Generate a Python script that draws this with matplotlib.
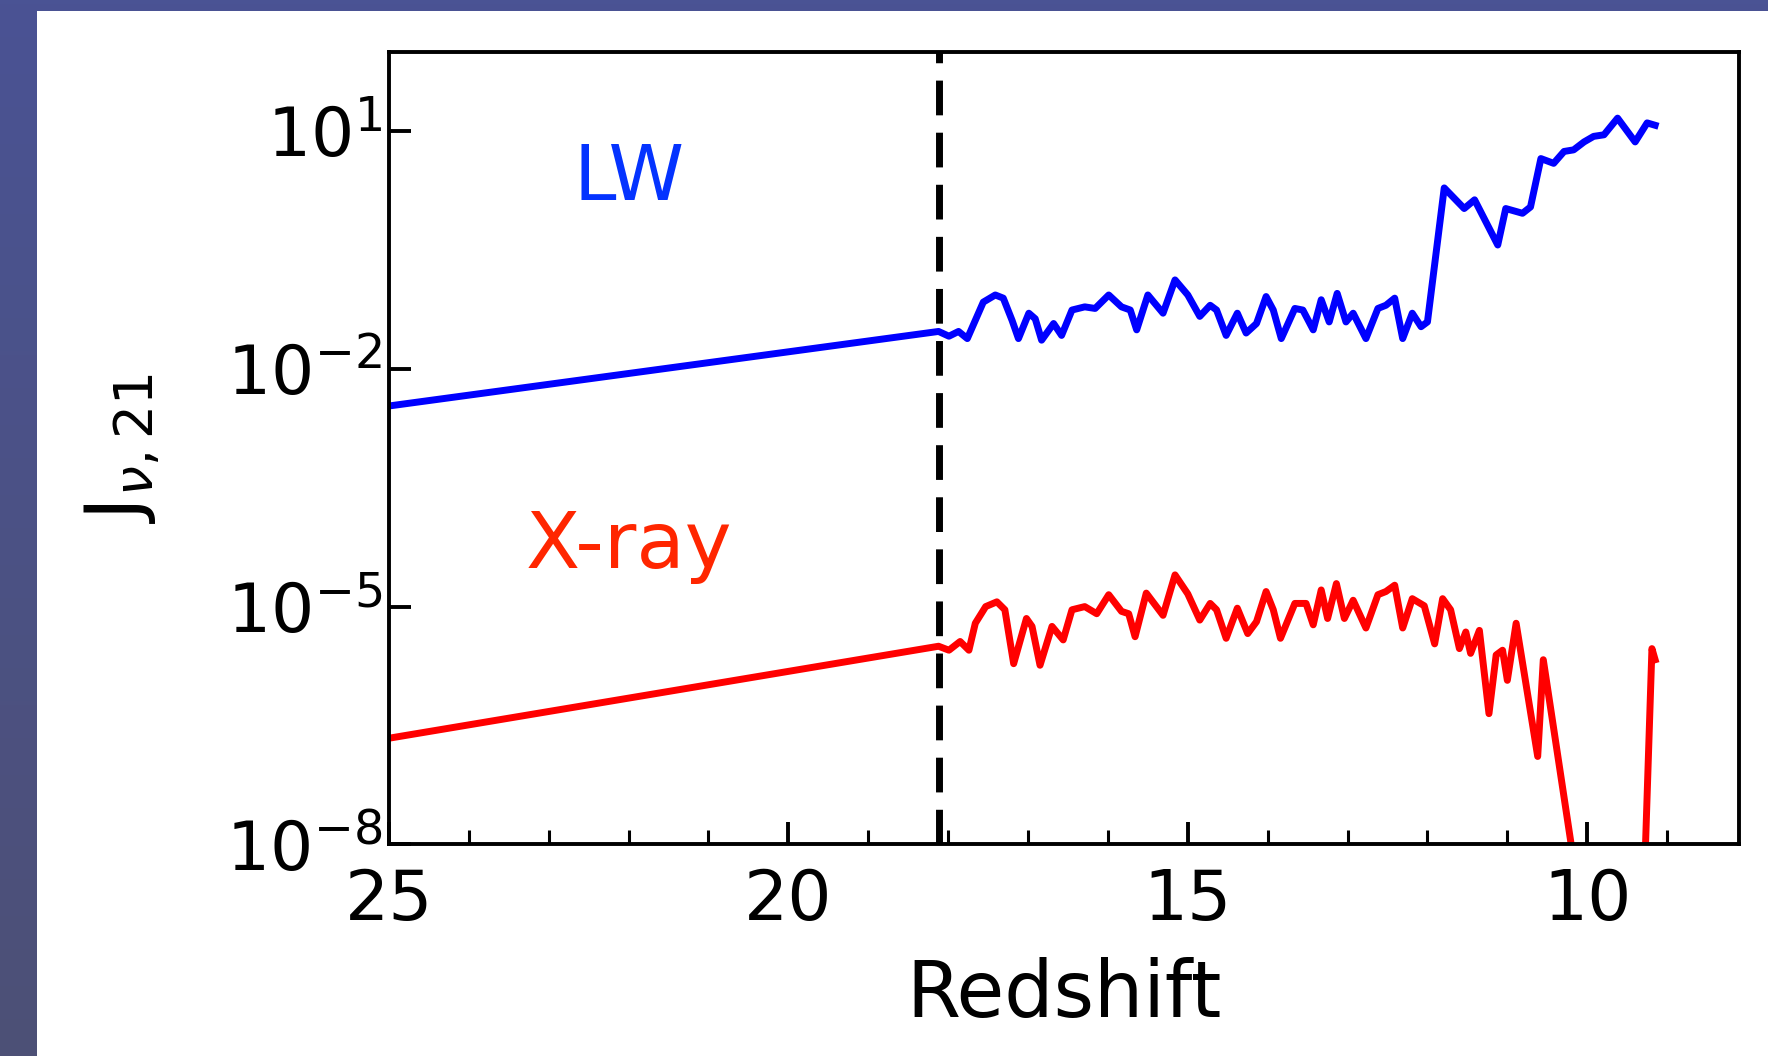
import numpy as np
import matplotlib.pyplot as plt
from matplotlib.patches import Rectangle
from matplotlib.ticker import FixedLocator, NullLocator, MultipleLocator

# redshift and log10(J_nu,21)
lw_z = [25.0, 18.12, 17.99, 17.87, 17.76, 17.66, 17.56, 17.41, 17.31, 17.20, 17.12,
        16.99, 16.91, 16.83, 16.68, 16.58, 16.45, 16.29, 16.16, 15.99, 15.83, 15.72,
        15.64, 15.50, 15.31, 15.16, 15.00, 14.85, 14.72, 14.64, 14.52, 14.38, 14.27,
        14.14, 14.02, 13.93, 13.83, 13.66, 13.56, 13.43, 13.33, 13.23, 13.13, 13.02,
        12.93, 12.77, 12.62, 12.52, 12.41, 12.31, 12.19, 12.08, 12.00, 11.79, 11.54,
        11.41, 11.12, 11.02, 10.81, 10.71, 10.58, 10.42, 10.29, 10.17, 10.04, 9.92,
        9.79, 9.62, 9.40, 9.25, 9.15]
lw_log = [-2.47, -1.53, -1.59, -1.53, -1.62, -1.39, -1.16, -1.07, -1.11, -1.39, -1.62,
          -1.30, -1.37, -1.64, -1.43, -1.58, -1.26, -1.22, -1.24, -1.07, -1.22, -1.26,
          -1.51, -1.07, -1.30, -0.88, -1.07, -1.34, -1.20, -1.26, -1.58, -1.30, -1.55,
          -1.43, -1.09, -1.26, -1.62, -1.24, -1.26, -1.51, -1.13, -1.41, -1.05, -1.41,
          -1.30, -1.62, -1.24, -1.20, -1.11, -1.62, -1.30, -1.47, -1.41, 0.28, 0.02,
          0.13, -0.44, 0.02, -0.04, 0.04, 0.65, 0.59, 0.74, 0.76, 0.86, 0.93,
          0.95, 1.16, 0.86, 1.10, 1.07]

xr_z = [25.0, 18.12, 17.99, 17.85, 17.74, 17.66, 17.53, 17.39, 17.29, 17.18, 17.02,
        16.95, 16.85, 16.70, 16.56, 16.45, 16.29, 16.14, 15.99, 15.83, 15.74, 15.66,
        15.52, 15.31, 15.16, 15.00, 14.85, 14.72, 14.64, 14.52, 14.38, 14.25, 14.14,
        14.02, 13.93, 13.84, 13.66, 13.52, 13.43, 13.33, 13.25, 13.14, 13.04, 12.93,
        12.77, 12.62, 12.52, 12.41, 12.31, 12.19, 12.04, 11.91, 11.81, 11.71, 11.60,
        11.52, 11.46, 11.35, 11.23, 11.14, 11.06, 11.00, 10.89, 10.62, 10.55, 10.00,
        9.40, 9.19, 9.15]
xr_log = [-6.66, -5.50, -5.55, -5.44, -5.55, -5.21, -5.00, -4.94, -5.04, -5.72, -5.15,
          -5.25, -5.74, -5.25, -5.42, -5.04, -5.00, -5.09, -4.85, -5.06, -5.09, -5.38,
          -4.83, -5.11, -4.60, -4.84, -5.17, -4.96, -5.04, -5.40, -5.02, -5.34, -5.19,
          -4.81, -5.04, -5.40, -4.96, -4.96, -5.23, -4.79, -5.15, -4.71, -5.15, -4.92,
          -5.27, -4.85, -4.81, -4.73, -5.27, -4.90, -4.99, -5.47, -4.90, -5.04, -5.53,
          -5.32, -5.59, -5.30, -6.35, -5.61, -5.55, -5.93, -5.21, -6.89, -5.67, -9.34,
          -12.0, -5.53, -5.67]

z_transition = 18.12
yticks = [1e-8, 1e-5, 1e-2, 1e1]

fig = plt.figure(figsize=(17.68, 10.56), dpi=100)

# slide background: purple border on the left and top
bg = fig.add_axes([0, 0, 1, 1], zorder=-10)
grad = np.linspace(0, 1, 256).reshape(-1, 1)
top_c = np.array([0x4a, 0x53, 0x94]) / 255
bot_c = np.array([0x4d, 0x50, 0x76]) / 255
img = top_c + (bot_c - top_c) * grad[:, :, None]
bg.imshow(img, aspect='auto', extent=[0, 1, 0, 1])
bg.add_patch(Rectangle((37 / 1768, 0), 1, 1 - 11 / 1056, transform=bg.transAxes,
                       facecolor='white', edgecolor='none'))
bg.set_xlim(0, 1)
bg.set_ylim(0, 1)
bg.axis('off')

ax = fig.add_axes([0.22, 0.2003, 0.7636, 0.7509])
ax.set_facecolor('white')

ax.plot(lw_z, 10 ** np.array(lw_log), color='#0000ff', lw=5)
ax.plot(xr_z, 10 ** np.array(xr_log), color='#ff0000', lw=5)
ax.axvline(z_transition, color='black', lw=5, dashes=(5, 2.5))

ax.set_yscale('log')
ax.set_xlim(25, 8.1)
ax.set_ylim(1e-8, 1e2)
ax.yaxis.set_major_locator(FixedLocator(yticks))
ax.yaxis.set_minor_locator(NullLocator())
ax.xaxis.set_major_locator(MultipleLocator(5))
ax.xaxis.set_minor_locator(MultipleLocator(1))

ax.tick_params(which='both', direction='in', width=2.8)
ax.tick_params(which='major', length=16)
ax.tick_params(which='minor', length=10, width=2.2)
ax.tick_params(axis='x', labelsize=50, pad=16)
ax.tick_params(axis='y', labelsize=49, pad=5)
for s in ax.spines.values():
    s.set_linewidth(2.8)

ax.set_xlabel('Redshift', fontsize=56)
ax.set_ylabel(r'J$_{\nu,21}$', fontsize=55)
ax.xaxis.set_label_coords(0.5, -0.142)
ax.yaxis.set_label_coords(-0.168, 0.5)

ax.text(22.0, 10 ** 0.39, 'LW', color='#0433ff', fontsize=55, ha='center', va='center')
ax.text(22.0, 10 ** -4.23, 'X-ray', color='#ff2600', fontsize=57, ha='center', va='center')

plt.savefig('out.png', dpi=100)
